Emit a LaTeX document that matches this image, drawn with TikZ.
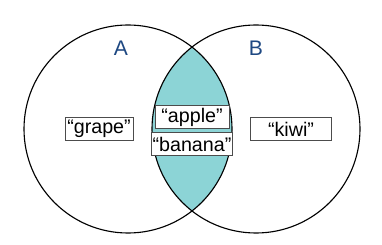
\documentclass[tikz,border=0pt]{standalone}
\usepackage{fontspec}
\setmainfont{Liberation Sans}
\usepackage{tikz}
\usetikzlibrary{positioning}
\definecolor{lensteal}{RGB}{140,212,214}
\definecolor{setblue}{RGB}{30,72,130}
\tikzset{
    set_circle/.style={
        draw=black, line width=0.8pt
    },
    item_box/.style={
        rectangle, draw=black!70, line width=0.6pt, fill=white,
        minimum height=0.57cm, inner sep=1pt,
        align=center, font=\fontsize{14}{16}\selectfont
    },
    set_lbl/.style={
        font=\fontsize{15}{17}\selectfont, text=setblue
    }
}
\begin{document}
\begin{tikzpicture}[x=0.025cm, y=0.025cm]
    \useasboundingbox (0,0) rectangle (382,244);
    % Sets
    \coordinate (ca) at (128,115);
    \coordinate (cb) at (256,115);
    \begin{scope}
        \clip (ca) circle [radius=104];
        \fill[lensteal] (cb) circle [radius=104];
    \end{scope}
    \draw[set_circle] (ca) circle [radius=104];
    \draw[set_circle] (cb) circle [radius=104];

    % Labels
    \node[set_lbl] (lblA) at (121,196) {A};
    \node[set_lbl] (lblB) at (256,196) {B};

    % Items
    \node[item_box, minimum width=1.7cm] (grape) at (99,115) {“grape”};
    \node[item_box, minimum width=1.85cm] (apple) at (192,127) {“apple”};
    \node[item_box, minimum width=1.85cm] (banana) at (192,100) {“banana”};
    \node[item_box, minimum width=2.02cm] (kiwi) at (291,115) {“kiwi”};
\end{tikzpicture}
\end{document}
